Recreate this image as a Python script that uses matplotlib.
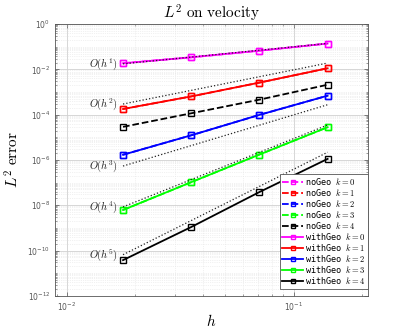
import matplotlib
matplotlib.use("Agg")
import matplotlib.pyplot as plt
from matplotlib.ticker import LogLocator, NullFormatter, FixedLocator
import numpy as np

plt.rcParams['mathtext.fontset'] = 'cm'

# mesh sizes
h = [0.017678, 0.035355, 0.070711, 0.141421]

# errors (withGeo), k = 0..4
with_geo = [
    [1.86e-2, 3.4e-2, 6.7e-2, 1.38e-1],
    [1.78e-4, 6.4e-4, 2.6e-3, 1.12e-2],
    [1.7e-6, 1.23e-5, 9.8e-5, 6.9e-4],
    [6.2e-9, 1.05e-7, 1.74e-6, 2.8e-5],
    [3.8e-11, 1.1e-9, 3.85e-8, 1.12e-6],
]
# errors (noGeo), k = 0..4
no_geo = [
    [1.86e-2, 3.4e-2, 6.7e-2, 1.38e-1],
    [1.78e-4, 6.4e-4, 2.6e-3, 1.12e-2],
    [1.7e-6, 1.23e-5, 9.8e-5, 6.9e-4],
    [6.2e-9, 1.05e-7, 1.74e-6, 2.8e-5],
    [2.9e-5, 1.15e-4, 4.6e-4, 2.1e-3],
]
colors = ['#ff00ff', '#ff0000', '#0000ff', '#00ff00', '#000000']

# reference slope lines: endpoints at h[0] and h[-1]
ref_orders = [1, 2, 3, 4, 5]
ref_start = [1.75e-2, 2.95e-4, 5.4e-7, 8.5e-9, 6.6e-11]
ref_end = [1.40e-1, 1.9e-2, 2.75e-4, 3.5e-5, 2.2e-6]

# tick positions
x_ticks = [0.01, 0.1]
y_ticks = [1e-12, 1e-10, 1e-8, 1e-6, 1e-4, 1e-2, 1e0]

fig = plt.figure(figsize=(4.07, 3.34), dpi=100)
ax = fig.add_axes([0.135, 0.114, 0.769, 0.814])

for k in range(5):
    ax.plot(h, no_geo[k], ls='--', color=colors[k], lw=1.3, marker='s',
            ms=5, mfc='none', mew=1.0, label=f'noGeo $k={k}$')
for k in range(5):
    ax.plot(h, with_geo[k], ls='-', color=colors[k], lw=1.3, marker='s',
            ms=5, mfc='none', mew=1.0, label=f'withGeo $k={k}$')

for p, y0, y1 in zip(ref_orders, ref_start, ref_end):
    ax.plot([h[0], h[-1]], [y0, y1], ls=':', color='#222222', lw=0.9)
    ax.annotate(f'$O(h^{p})$', xy=(h[0], y0), xytext=(-4, 0),
                textcoords='offset points', ha='right', va='center',
                fontsize=7.5, color='#222222')

ax.set_xscale('log')
ax.set_yscale('log')
ax.set_xlim(0.00885, 0.213)
ax.set_ylim(1e-12, 1e0)

ax.xaxis.set_major_locator(FixedLocator(x_ticks))
ax.yaxis.set_major_locator(FixedLocator(y_ticks))
ax.yaxis.set_minor_locator(LogLocator(base=10, subs=np.arange(1, 10), numticks=100))
ax.yaxis.set_minor_formatter(NullFormatter())
ax.xaxis.set_minor_formatter(NullFormatter())

ax.grid(True, which='major', color='#d0d0d0', lw=0.6, ls='-')
ax.grid(True, which='minor', color='#e4e4e4', lw=0.5, ls=':')
ax.set_axisbelow(True)

ax.tick_params(which='both', direction='in', top=True, right=True,
               labelsize=5.5, labelcolor='#555555', color='#555555')
ax.tick_params(which='major', length=3, width=0.5)
ax.tick_params(which='minor', length=1.5, width=0.4)
for s in ax.spines.values():
    s.set_color('#555555')
    s.set_linewidth(0.6)

ax.set_title(r'$L^2\ \mathrm{on\ velocity}$', fontsize=11, pad=4)
ax.set_xlabel('$h$', fontsize=11, labelpad=0)
ax.set_ylabel(r'$L^2\ \mathrm{error}$', fontsize=11, labelpad=4)

leg = ax.legend(loc='lower right', bbox_to_anchor=(1.0, 0.026),
                prop={'family': 'DejaVu Sans Mono', 'size': 6.1},
                handlelength=2.4, handletextpad=0.2, labelspacing=0.0,
                borderpad=0.3, borderaxespad=0.0, fancybox=False,
                framealpha=1, edgecolor='#555555', markerscale=0.7)
leg.get_frame().set_linewidth(0.6)

fig.savefig('out.png', dpi=100)
